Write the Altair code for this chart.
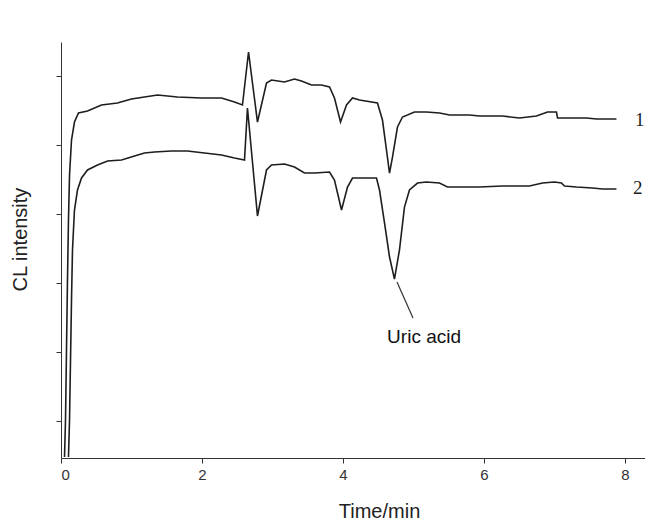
import altair as alt
import pandas as pd

# Curve 1 (upper trace): time (min) and CL intensity (a.u.)
t1 = [0.050, 0.064, 0.078, 0.092, 0.106, 0.121, 0.149, 0.191, 0.248, 0.376,
      0.574, 0.801, 0.999, 1.184, 1.369, 1.652, 1.993, 2.277, 2.461, 2.574,
      2.660, 2.787, 2.915, 2.986, 3.170, 3.312, 3.411, 3.553, 3.695, 3.809,
      3.879, 3.965, 4.050, 4.135, 4.234, 4.489, 4.560, 4.617, 4.660, 4.702,
      4.773, 4.844, 5.014, 5.184, 5.369, 5.511, 5.794, 5.936, 6.262, 6.504,
      6.745, 6.901, 7.028, 7.043, 7.213, 7.454, 7.596, 7.738, 7.879]
y1 = [0.478, 1.014, 2.029, 3.043, 3.913, 4.565, 5.072, 5.333, 5.464, 5.493,
      5.580, 5.609, 5.667, 5.696, 5.725, 5.696, 5.681, 5.681, 5.623, 5.580,
      6.348, 5.333, 5.899, 5.942, 5.913, 5.957, 5.928, 5.870, 5.870, 5.841,
      5.681, 5.333, 5.580, 5.681, 5.652, 5.609, 5.362, 4.928, 4.594, 4.826,
      5.261, 5.406, 5.478, 5.478, 5.464, 5.435, 5.435, 5.420, 5.420, 5.391,
      5.420, 5.478, 5.478, 5.391, 5.391, 5.391, 5.377, 5.377, 5.377]

# Curve 2 (lower trace)
t2 = [0.106, 0.121, 0.135, 0.149, 0.163, 0.191, 0.234, 0.291, 0.376, 0.518,
      0.660, 0.858, 1.043, 1.184, 1.326, 1.567, 1.794, 2.035, 2.277, 2.461,
      2.603, 2.645, 2.787, 2.915, 2.986, 3.170, 3.312, 3.454, 3.596, 3.809,
      3.879, 3.979, 4.064, 4.135, 4.305, 4.475, 4.518, 4.589, 4.660, 4.730,
      4.801, 4.872, 4.943, 5.057, 5.184, 5.369, 5.482, 5.936, 6.262, 6.645,
      6.830, 7.000, 7.099, 7.142, 7.312, 7.539, 7.681, 7.879]
y2 = [0.478, 1.014, 1.884, 2.754, 3.478, 4.058, 4.348, 4.522, 4.638, 4.710,
      4.768, 4.783, 4.841, 4.884, 4.899, 4.913, 4.913, 4.884, 4.855, 4.812,
      4.783, 5.536, 3.971, 4.638, 4.710, 4.725, 4.681, 4.594, 4.594, 4.609,
      4.493, 4.058, 4.391, 4.522, 4.522, 4.522, 4.348, 3.870, 3.377, 3.058,
      3.478, 4.101, 4.348, 4.449, 4.464, 4.449, 4.391, 4.391, 4.406, 4.406,
      4.449, 4.464, 4.449, 4.406, 4.391, 4.377, 4.362, 4.362]

x_ticks = [0, 2, 4, 6, 8]
y_ticks = [1, 2, 3, 4, 5, 6]

curve_labels = ["1", "2"]
curve_label_t = [8.21, 8.18]
curve_label_y = [5.36, 4.38]

peak_name = "Uric acid"
arrow_t = [4.766, 4.993]
arrow_y = [3.014, 2.493]
peak_text_t = 5.15
peak_text_y = 2.22

X_DOMAIN = [0, 8.284]
Y_DOMAIN = [0.464, 6.493]

rows = []
for i, (t, v) in enumerate(zip(t1, y1)):
    rows.append({"t": t, "v": v, "curve": "1", "i": i})
for i, (t, v) in enumerate(zip(t2, y2)):
    rows.append({"t": t, "v": v, "curve": "2", "i": i})
df = pd.DataFrame(rows)

ink = "#1e1e1e"

x_scale = alt.Scale(domain=X_DOMAIN, nice=False, zero=False)
y_scale = alt.Scale(domain=Y_DOMAIN, nice=False, zero=False)

x_axis = alt.Axis(values=x_ticks, title="Time/min", format="d", grid=False,
                  domainColor="#333", tickColor="#333", tickSize=5,
                  labelFont="Liberation Sans", labelFontSize=15, labelColor="#333",
                  labelPadding=4,
                  titleFont="Liberation Sans", titleFontSize=20, titleFontWeight="normal",
                  titleColor="#222", titleX=318, titleY=59, titleAnchor="start",
                  titleAlign="center", titleBaseline="alphabetic")
y_axis = alt.Axis(values=y_ticks, title="CL intensity", labels=False, grid=False,
                  domainColor="#333", tickColor="#333", tickSize=5,
                  titleFont="Liberation Sans", titleFontSize=20, titleFontWeight="normal",
                  titleColor="#222", titleX=-41, titleY=197, titleAngle=-90,
                  titleAlign="center", titleBaseline="middle")

lines = alt.Chart(df).mark_line(strokeWidth=1.6, color=ink, interpolate="linear").encode(
    x=alt.X("t:Q", scale=x_scale, axis=x_axis),
    y=alt.Y("v:Q", scale=y_scale, axis=y_axis),
    detail="curve:N",
    order="i:Q",
)

lab_df = pd.DataFrame({"t": curve_label_t, "v": curve_label_y, "txt": curve_labels})
labels = alt.Chart(lab_df).mark_text(font="Liberation Serif", fontSize=19, color=ink,
                                     align="center", baseline="middle").encode(
    x=alt.X("t:Q", scale=x_scale), y=alt.Y("v:Q", scale=y_scale), text="txt:N")

arr_df = pd.DataFrame({"t": [arrow_t[0]], "v": [arrow_y[0]],
                       "t2": [arrow_t[1]], "v2": [arrow_y[1]]})
arrow = alt.Chart(arr_df).mark_rule(color="#333", strokeWidth=1.2).encode(
    x=alt.X("t:Q", scale=x_scale), y=alt.Y("v:Q", scale=y_scale),
    x2="t2:Q", y2="v2:Q")

pk_df = pd.DataFrame({"t": [peak_text_t], "v": [peak_text_y], "txt": [peak_name]})
peak_text = alt.Chart(pk_df).mark_text(font="Liberation Sans", fontSize=19, color="#111",
                                       align="center", baseline="middle").encode(
    x=alt.X("t:Q", scale=x_scale), y=alt.Y("v:Q", scale=y_scale), text="txt:N")

chart = alt.layer(lines, labels, arrow, peak_text).properties(
    width=584, height=416,
    background="white",
    autosize=alt.AutoSizeParams(type="none"),
    padding={"left": 53, "top": 34, "right": 0, "bottom": 65},
).configure_view(stroke=None)

chart.save("out.html", embed_options={"renderer": "svg", "actions": False})
